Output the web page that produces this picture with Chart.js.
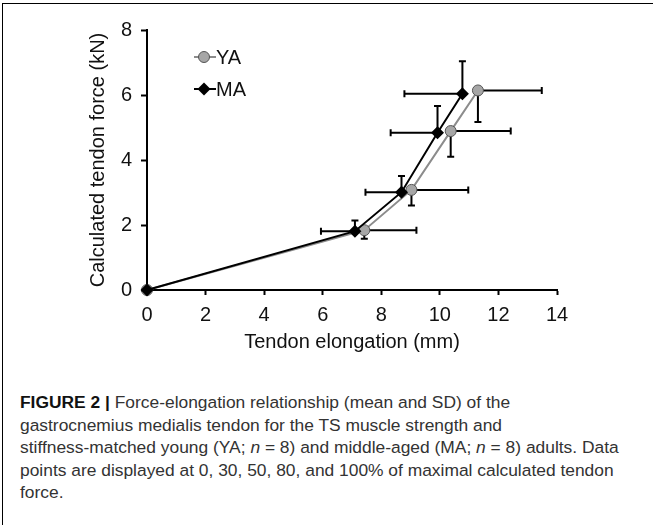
<!DOCTYPE html>
<html>
<head>
<meta charset="utf-8">
<script src="https://cdn.jsdelivr.net/npm/chart.js@4.4.1/dist/chart.umd.min.js"></script>
<style>
  html, body { margin: 0; padding: 0; background: #fff; overflow: hidden; }
  body { width: 653px; height: 525px; position: relative; font-family: "Liberation Sans", Arial, sans-serif; }
  #frame { position: absolute; left: 2px; top: 3px; width: 651px; height: 522px; border-left: 1px solid #000; border-top: 1px solid #000; box-sizing: border-box; }
  #wrap { position: absolute; left: 0; top: 0; width: 653px; height: 360px; }
  #caption { position: absolute; left: 20px; top: 391px; font-size: 17.4px; line-height: 22.5px; color: #333; white-space: nowrap; }
  #caption b { color: #111; }
</style>
</head>
<body>
<div id="frame"></div>
<div id="wrap"><canvas id="c" width="653" height="360"></canvas></div>
<div id="caption"><b>FIGURE 2 |</b> Force-elongation relationship (mean and SD) of the<br>gastrocnemius medialis tendon for the TS muscle strength and<br>stiffness-matched young (YA; <i>n</i> = 8) and middle-aged (MA; <i>n</i> = 8) adults. Data<br>points are displayed at 0, 30, 50, 80, and 100% of maximal calculated tendon<br>force.</div>
<script>
// ---- data ----
const seriesNames = ["YA", "MA"];
const yaElong = [0, 7.42, 9.03, 10.37, 11.3];
const yaForce = [0, 1.84, 3.08, 4.89, 6.14];
const yaElongSD = [0, 1.78, 1.94, 2.05, 2.18];
const yaForceSD = [0, 0.26, 0.48, 0.79, 0.97];
const maElong = [0, 7.1, 8.69, 9.92, 10.77];
const maForce = [0, 1.81, 3.01, 4.84, 6.04];
const maElongSD = [0, 1.16, 1.23, 1.6, 1.98];
const maForceSD = [0, 0.33, 0.5, 0.82, 1.0];
const xTicks = [0, 2, 4, 6, 8, 10, 12, 14];
const yTicks = [0, 2, 4, 6, 8];

const FONT = '"Liberation Sans", Arial, sans-serif';
const toPts = (xs, ys) => xs.map((x, i) => ({ x: x, y: ys[i] }));

// error bars: YA shows +x / -y, MA shows -x / +y (one-sided, as in the figure)
const errorBars = [
  { xs: yaElong, ys: yaForce, sx: yaElongSD, sy: yaForceSD, dx: 1, dy: -1 },
  { xs: maElong, ys: maForce, sx: maElongSD, sy: maForceSD, dx: -1, dy: 1 }
];

const errorBarPlugin = {
  id: 'errorBars',
  beforeDatasetsDraw(chart) {
    const { ctx, scales: { x, y } } = chart;
    const cap = 3.5;
    ctx.save();
    ctx.strokeStyle = '#000';
    ctx.lineWidth = 2;
    errorBars.forEach(s => {
      s.xs.forEach((xv, i) => {
        const px = x.getPixelForValue(xv), py = y.getPixelForValue(s.ys[i]);
        if (s.sx[i] > 0) {
          const ex = x.getPixelForValue(xv + s.dx * s.sx[i]);
          ctx.beginPath(); ctx.moveTo(px, py); ctx.lineTo(ex, py);
          ctx.moveTo(ex, py - cap); ctx.lineTo(ex, py + cap); ctx.stroke();
        }
        if (s.sy[i] > 0) {
          const ey = y.getPixelForValue(s.ys[i] + s.dy * s.sy[i]);
          ctx.beginPath(); ctx.moveTo(px, py); ctx.lineTo(px, ey);
          ctx.moveTo(px - cap, ey); ctx.lineTo(px + cap, ey); ctx.stroke();
        }
      });
    });
    ctx.restore();
  }
};

const legendPlugin = {
  id: 'insideLegend',
  afterDraw(chart) {
    const { ctx } = chart;
    const items = [
      { label: seriesNames[0], y: 57, line: '#8c8c8c', draw: (cx, cy) => { ctx.beginPath(); ctx.arc(cx, cy, 5.5, 0, Math.PI * 2); ctx.fillStyle = '#a6a6a6'; ctx.fill(); ctx.lineWidth = 1; ctx.strokeStyle = '#555'; ctx.stroke(); } },
      { label: seriesNames[1], y: 89, line: '#000', draw: (cx, cy) => { ctx.beginPath(); ctx.moveTo(cx, cy - 6.5); ctx.lineTo(cx + 6.5, cy); ctx.lineTo(cx, cy + 6.5); ctx.lineTo(cx - 6.5, cy); ctx.closePath(); ctx.fillStyle = '#000'; ctx.fill(); } }
    ];
    ctx.save();
    items.forEach(it => {
      ctx.strokeStyle = it.line; ctx.lineWidth = 2;
      ctx.beginPath(); ctx.moveTo(194, it.y); ctx.lineTo(216, it.y); ctx.stroke();
      it.draw(204, it.y);
      ctx.fillStyle = '#111';
      ctx.font = '20px ' + FONT;
      ctx.textBaseline = 'middle';
      ctx.textAlign = 'left';
      ctx.fillText(it.label, 216, it.y + 1);
    });
    ctx.restore();
  }
};

new Chart(document.getElementById('c'), {
  type: 'scatter',
  data: {
    datasets: [
      {
        label: seriesNames[1],
        data: toPts(maElong, maForce),
        showLine: true,
        clip: false,
        borderColor: '#000',
        borderWidth: 2,
        backgroundColor: '#000',
        pointStyle: 'rectRot',
        pointRadius: 6.5,
        pointBorderWidth: 0,
        pointBackgroundColor: '#000',
        order: 1
      },
      {
        label: seriesNames[0],
        data: toPts(yaElong, yaForce),
        showLine: true,
        clip: false,
        borderColor: '#8c8c8c',
        borderWidth: 2,
        pointStyle: 'circle',
        pointRadius: 5.5,
        pointBackgroundColor: '#a6a6a6',
        pointBorderColor: '#555',
        pointBorderWidth: 1,
        order: 2
      }
    ]
  },
  options: {
    responsive: false,
    animation: false,
    devicePixelRatio: 1,
    layout: { padding: { left: 0, top: 30, right: 96, bottom: 0 } },
    plugins: { legend: { display: false }, tooltip: { enabled: false } },
    scales: {
      x: {
        type: 'linear',
        min: xTicks[0], max: xTicks[xTicks.length - 1],
        afterBuildTicks: s => { s.ticks = xTicks.map(v => ({ value: v })); },
        afterFit: s => { s.height = 70; },
        grid: { drawOnChartArea: false, drawTicks: true, tickLength: 5, tickColor: '#000', tickWidth: 2 },
        border: { display: true, color: '#000', width: 2 },
        ticks: { color: '#111', font: { family: FONT, size: 20 }, padding: 8, maxRotation: 0 },
        title: { display: true, text: 'Tendon elongation (mm)', color: '#111', font: { family: FONT, size: 20 }, padding: { top: 0, bottom: 6 } }
      },
      y: {
        type: 'linear',
        min: yTicks[0], max: yTicks[yTicks.length - 1],
        afterBuildTicks: s => { s.ticks = yTicks.map(v => ({ value: v })); },
        afterFit: s => { s.width = 147; },
        grid: { drawOnChartArea: false, drawTicks: true, tickLength: 6, tickColor: '#000', tickWidth: 2 },
        border: { display: true, color: '#000', width: 2 },
        ticks: { color: '#111', font: { family: FONT, size: 20 }, padding: 9 },
        title: { display: true, text: 'Calculated tendon force (kN)', color: '#111', font: { family: FONT, size: 20 }, padding: { top: 86, bottom: 0 } }
      }
    }
  },
  plugins: [errorBarPlugin, legendPlugin]
});
</script>
</body>
</html>
